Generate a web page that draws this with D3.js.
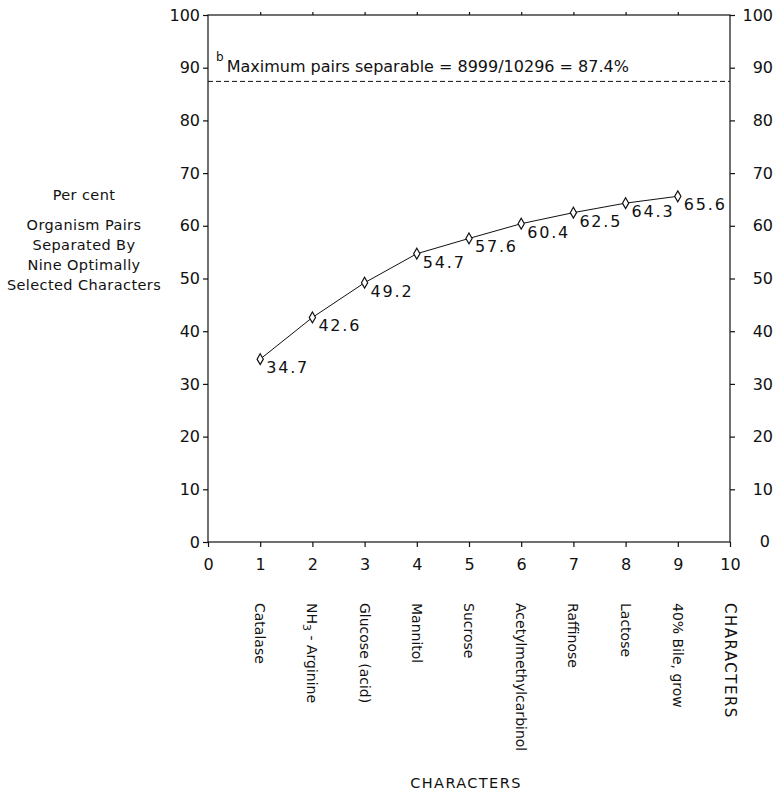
<!DOCTYPE html>
<html>
<head>
<meta charset="utf-8">
<script src="https://cdn.jsdelivr.net/npm/d3@7"></script>
<style>
  body { margin: 0; background: #fff; }
  text { font-family: "DejaVu Sans", sans-serif; fill: #111; }
  .axis path, .axis line { stroke: #111; stroke-width: 1.2; }
  .axis text { font-size: 16px; }
</style>
</head>
<body>
<div id="chart"></div>
<script>
// values
const steps = [1, 2, 3, 4, 5, 6, 7, 8, 9];
const percents = [34.7, 42.6, 49.2, 54.7, 57.6, 60.4, 62.5, 64.3, 65.6];
const characters = ["Catalase", "NH3 - Arginine", "Glucose (acid)", "Mannitol", "Sucrose",
    "Acetylmethylcarbinol", "Raffinose", "Lactose", "40% Bile, grow"];
const xTicks = [0, 1, 2, 3, 4, 5, 6, 7, 8, 9, 10];
const yTicks = [0, 10, 20, 30, 40, 50, 60, 70, 80, 90, 100];
const maxSeparable = 87.4;
const yTitle = ["Per cent", "Organism Pairs", "Separated By", "Nine Optimally", "Selected Characters"];

const W = 777, H = 793;
const margin = { top: 15, right: 47, bottom: 251, left: 208 },
    width = W - margin.left - margin.right,
    height = H - margin.top - margin.bottom;

const svg = d3.select("#chart")
    .append("svg")
    .attr("width", W)
    .attr("height", H)
    .append("g")
    .attr("transform", "translate(" + margin.left + "," + margin.top + ")");

const x = d3.scaleLinear().domain([0, 10]).range([0, width]);
const y = d3.scaleLinear().domain([0, 100]).range([height, 0]);

// frame
svg.append("rect")
    .attr("width", width)
    .attr("height", height)
    .attr("fill", "none")
    .attr("stroke", "#111")
    .attr("stroke-width", 1.2);

// left axis
svg.append("g")
    .attr("class", "axis")
    .call(d3.axisLeft(y).tickValues(yTicks).tickSize(5).tickPadding(3))
    .call(g => g.select(".domain").remove());

// right axis, labels right aligned at the page edge
const right = svg.append("g")
    .attr("class", "axis")
    .attr("transform", "translate(" + width + ",0)")
    .call(d3.axisRight(y).tickValues(yTicks.filter(d => d > 0)).tickSize(5).tickPadding(3))
    .call(g => g.select(".domain").remove());
right.selectAll("text")
    .attr("text-anchor", "end")
    .attr("x", 43);
right.append("text")
    .attr("x", 40)
    .attr("y", y(0))
    .attr("dy", "0.32em")
    .attr("text-anchor", "end")
    .style("fill", "#111")
    .text("0");

// bottom axis
svg.append("g")
    .attr("class", "axis")
    .attr("transform", "translate(0," + height + ")")
    .call(d3.axisBottom(x).tickValues(xTicks).tickSize(5).tickPadding(12))
    .call(g => g.select(".domain").remove());

// top axis (ticks only)
svg.append("g")
    .attr("class", "axis")
    .call(d3.axisTop(x).tickValues(steps).tickSize(3).tickFormat(""))
    .call(g => g.select(".domain").remove());

// maximum separable line
svg.append("line")
    .attr("x1", 0)
    .attr("x2", width)
    .attr("y1", y(maxSeparable))
    .attr("y2", y(maxSeparable))
    .attr("stroke", "#111")
    .attr("stroke-width", 1)
    .attr("stroke-dasharray", "5,3");

const note = svg.append("text")
    .attr("x", 8)
    .attr("y", y(maxSeparable) - 9)
    .style("font-size", "16px");
note.append("tspan")
    .attr("dy", "-11")
    .style("font-size", "12px")
    .text("b");
note.append("tspan")
    .attr("dy", "11")
    .attr("dx", "3")
    .text("Maximum pairs separable = 8999/10296 = " + maxSeparable + "%");

// curve
const points = steps.map((s, i) => ({ s: s, v: percents[i] }));

svg.append("path")
    .datum(points)
    .attr("fill", "none")
    .attr("stroke", "#111")
    .attr("stroke-width", 1)
    .attr("d", d3.line().x(d => x(d.s)).y(d => y(d.v)));

svg.selectAll(".marker")
    .data(points)
    .enter()
    .append("path")
    .attr("class", "marker")
    .attr("transform", d => "translate(" + x(d.s) + "," + y(d.v) + ")")
    .attr("d", d3.symbol().type(d3.symbolDiamond).size(34))
    .attr("fill", "#fff")
    .attr("stroke", "#111")
    .attr("stroke-width", 1.2);

svg.selectAll(".value")
    .data(points)
    .enter()
    .append("text")
    .attr("class", "value")
    .attr("x", d => x(d.s) + 6)
    .attr("y", d => y(d.v) + 14)
    .style("font-size", "16px")
    .style("letter-spacing", "1.8px")
    .text(d => d.v.toFixed(1));

// rotated character names
const names = svg.selectAll(".name")
    .data(points)
    .enter()
    .append("text")
    .attr("class", "name")
    .attr("transform", d => "translate(" + (x(d.s) - 5) + "," + (height + 61) + ") rotate(90)")
    .style("font-size", "14px");
names.each(function (d, i) {
    const t = d3.select(this);
    const label = characters[i];
    if (label.startsWith("NH3")) {
        t.append("tspan").text("NH");
        t.append("tspan").attr("dy", 4).style("font-size", "11px").text("3");
        t.append("tspan").attr("dy", -4).text(label.slice(3));
    } else {
        t.text(label);
    }
});

svg.append("text")
    .attr("transform", "translate(" + (x(10) - 5) + "," + (height + 61) + ") rotate(90)")
    .style("font-size", "15px")
    .style("letter-spacing", "1.5px")
    .text("CHARACTERS");

// axis titles
svg.append("text")
    .attr("x", x(5) - 3)
    .attr("y", height + 246)
    .attr("text-anchor", "middle")
    .style("font-size", "14.5px")
    .style("letter-spacing", "1.4px")
    .text("CHARACTERS");

svg.append("g")
    .selectAll("text")
    .data(yTitle)
    .enter()
    .append("text")
    .attr("x", 84 - margin.left)
    .attr("y", (d, i) => i === 0 ? 200 - margin.top : 230 - margin.top + (i - 1) * 20)
    .attr("text-anchor", "middle")
    .style("font-size", "14.5px")
    .style("letter-spacing", "0.4px")
    .text(d => d);
</script>
</body>
</html>
